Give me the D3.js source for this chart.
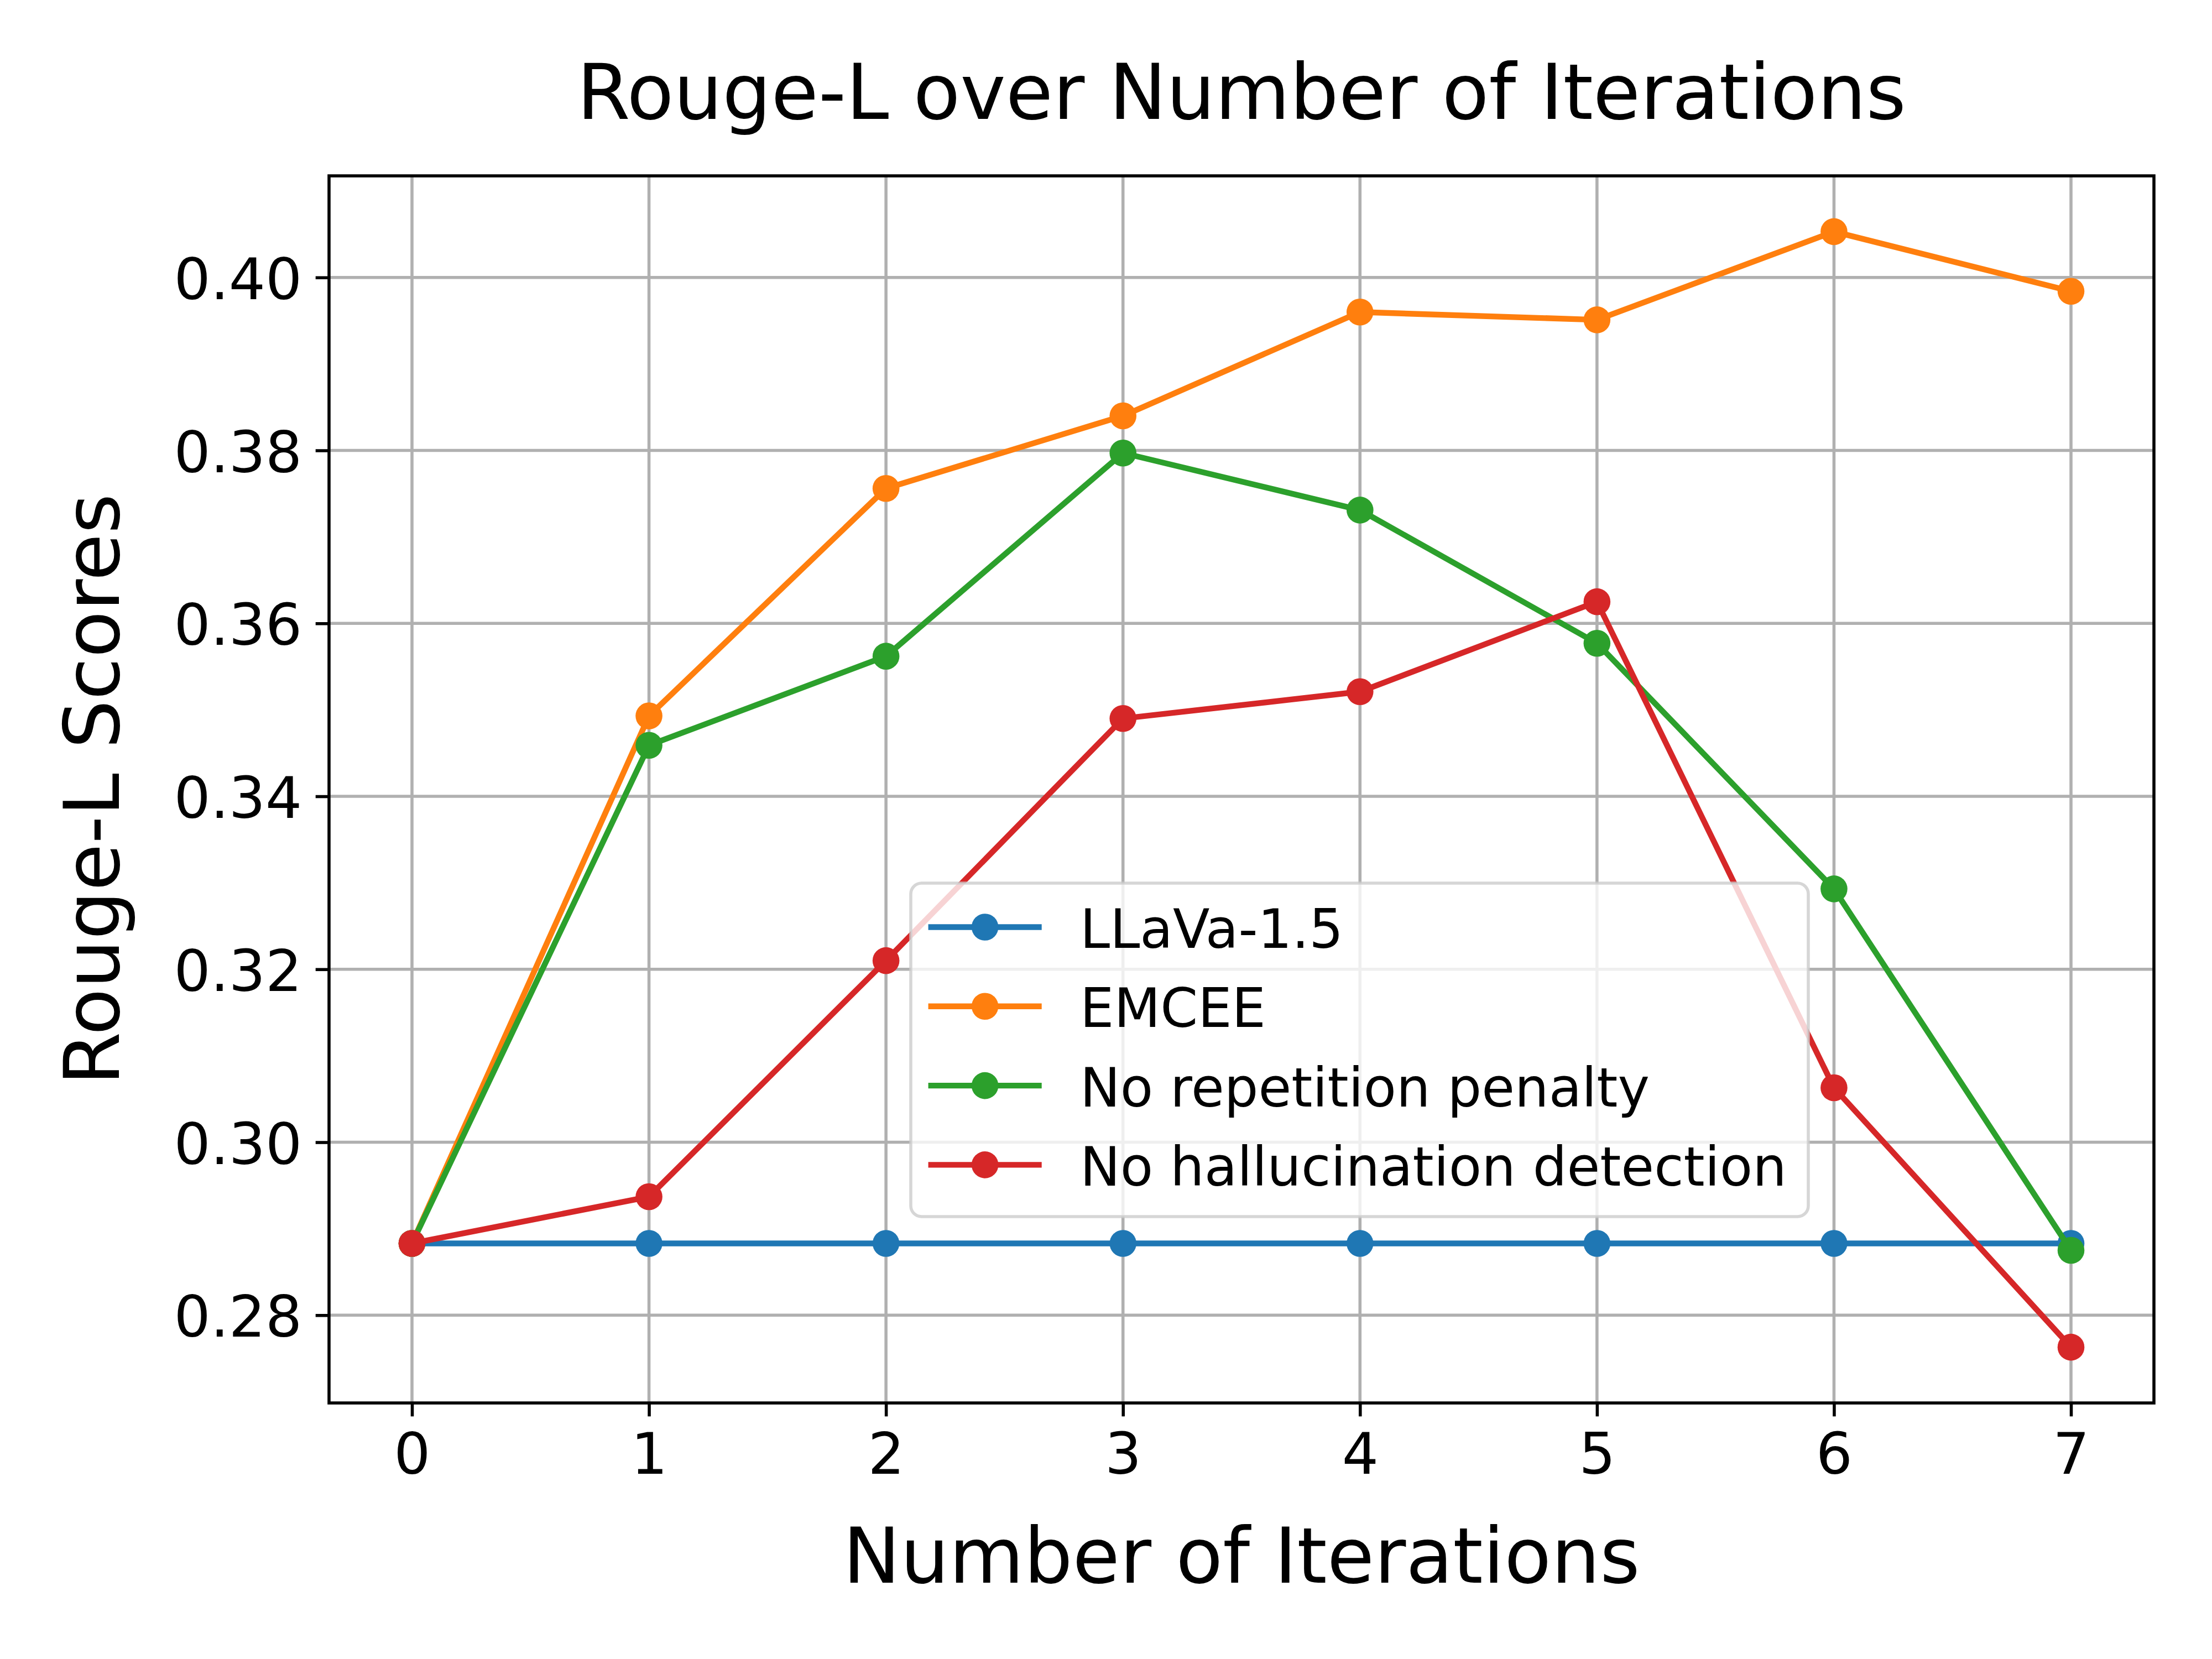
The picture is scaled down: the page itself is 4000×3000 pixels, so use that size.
<!DOCTYPE html>
<html>
<head>
<meta charset="utf-8">
<script src="https://cdn.jsdelivr.net/npm/d3@7"></script>
<style>
  html, body { margin: 0; padding: 0; background: #ffffff; }
  svg { display: block; }
  text { font-family: "DejaVu Sans", sans-serif; fill: #000; }
</style>
</head>
<body>
<svg id="chart" width="4000" height="3000"></svg>
<script>
// ---- data ----
const iterations = [0, 1, 2, 3, 4, 5, 6, 7];
const seriesNames = ["LLaVa-1.5", "EMCEE", "No repetition penalty", "No hallucination detection"];
const llavaScores = [0.2883, 0.2883, 0.2883, 0.2883, 0.2883, 0.2883, 0.2883, 0.2883];
const emceeScores = [0.2883, 0.3493, 0.3756, 0.3840, 0.3960, 0.3951, 0.4053, 0.3984];
const noRepetitionScores = [0.2883, 0.3459, 0.3562, 0.3797, 0.3731, 0.3577, 0.3293, 0.2875];
const noHallucinationScores = [0.2883, 0.2937, 0.3210, 0.3490, 0.3521, 0.3625, 0.3063, 0.2763];
const seriesColors = ["#1f77b4", "#ff7f0e", "#2ca02c", "#d62728"];
const xTickValues = [0, 1, 2, 3, 4, 5, 6, 7];
const yTickValues = [0.28, 0.30, 0.32, 0.34, 0.36, 0.38, 0.40];
const yTickLabels = ["0.28", "0.30", "0.32", "0.34", "0.36", "0.38", "0.40"];
const titleText = "Rouge-L over Number of Iterations";
const xLabelText = "Number of Iterations";
const yLabelText = "Rouge-L Scores";

// ---- layout ----
const W = 4000, H = 3000;
const ax = { left: 595, right: 3895, top: 318, bottom: 2537 };
const pt = 500 / 72;
const lw = 1.5 * pt, axLw = 0.8 * pt, markerR = 3.5 * pt;
const tickFont = 15 * pt, labelFont = 20 * pt, legendFont = 14 * pt;
const tickLen = 3.5 * pt, tickPad = 3.5 * pt;

const svg = d3.select("#chart");
svg.append("rect").attr("width", W).attr("height", H).attr("fill", "#ffffff");

const allSeries = [llavaScores, emceeScores, noRepetitionScores, noHallucinationScores];
const allVals = allSeries.flat();
const yMin = d3.min(allVals), yMax = d3.max(allVals);
const yPad = (yMax - yMin) * 0.05;
const xMinD = d3.min(iterations), xMaxD = d3.max(iterations);
const xPad = (xMaxD - xMinD) * 0.05;

const x = d3.scaleLinear().domain([xMinD - xPad, xMaxD + xPad]).range([ax.left, ax.right]);
const y = d3.scaleLinear().domain([yMin - yPad, yMax + yPad]).range([ax.bottom, ax.top]);

// clip
svg.append("defs").append("clipPath").attr("id", "clip")
  .append("rect").attr("x", ax.left).attr("y", ax.top)
  .attr("width", ax.right - ax.left).attr("height", ax.bottom - ax.top);

// grid
const grid = svg.append("g");
grid.selectAll("line.gx").data(xTickValues).enter().append("line")
  .attr("x1", d => x(d)).attr("x2", d => x(d))
  .attr("y1", ax.top).attr("y2", ax.bottom)
  .attr("stroke", "#b0b0b0").attr("stroke-width", axLw);
grid.selectAll("line.gy").data(yTickValues).enter().append("line")
  .attr("x1", ax.left).attr("x2", ax.right)
  .attr("y1", d => y(d)).attr("y2", d => y(d))
  .attr("stroke", "#b0b0b0").attr("stroke-width", axLw);

// series
const plot = svg.append("g").attr("clip-path", "url(#clip)");
const lineGen = d3.line().x((d, i) => x(iterations[i])).y(d => y(d));
allSeries.forEach((vals, si) => {
  const g = plot.append("g");
  g.append("path").datum(vals)
    .attr("d", lineGen)
    .attr("fill", "none")
    .attr("stroke", seriesColors[si])
    .attr("stroke-width", lw)
    .attr("stroke-linejoin", "round")
    .attr("stroke-linecap", "square");
  g.selectAll("circle").data(vals).enter().append("circle")
    .attr("cx", (d, i) => x(iterations[i]))
    .attr("cy", d => y(d))
    .attr("r", markerR)
    .attr("fill", seriesColors[si]);
});

// axes
const xAxis = d3.axisBottom(x).tickValues(xTickValues).tickSize(tickLen).tickPadding(tickPad).tickFormat(d3.format("d"));
const yAxis = d3.axisLeft(y).tickValues(yTickValues).tickSize(tickLen).tickPadding(tickPad)
  .tickFormat((d, i) => yTickLabels[i]);

const gx = svg.append("g").attr("transform", `translate(0,${ax.bottom})`).call(xAxis);
const gy = svg.append("g").attr("transform", `translate(${ax.left},0)`).call(yAxis);
[gx, gy].forEach(g => {
  g.select(".domain").remove();
  g.selectAll(".tick line").attr("stroke", "#000").attr("stroke-width", axLw);
  g.selectAll(".tick text").attr("font-size", tickFont).attr("fill", "#000")
    .attr("font-family", "DejaVu Sans, sans-serif");
});
gx.selectAll(".tick text").attr("dy", "0.762em");
gy.selectAll(".tick text").attr("dy", "0.37em");

// spines
svg.append("rect")
  .attr("x", ax.left).attr("y", ax.top)
  .attr("width", ax.right - ax.left).attr("height", ax.bottom - ax.top)
  .attr("fill", "none").attr("stroke", "#000").attr("stroke-width", axLw);

// title & labels
const cx = (ax.left + ax.right) / 2;
const cy = (ax.top + ax.bottom) / 2;
svg.append("text").attr("x", cx).attr("y", 215).attr("text-anchor", "middle")
  .attr("font-size", labelFont).text(titleText);
svg.append("text").attr("x", cx).attr("y", 2862).attr("text-anchor", "middle")
  .attr("font-size", labelFont).text(xLabelText);
svg.append("text").attr("transform", `translate(215,${cy}) rotate(-90)`)
  .attr("text-anchor", "middle").attr("font-size", labelFont).text(yLabelText);

// legend
const lg = { x: 1647, y: 1597, w: 1623, h: 603 };
const legend = svg.append("g");
legend.append("rect")
  .attr("x", lg.x).attr("y", lg.y).attr("width", lg.w).attr("height", lg.h)
  .attr("rx", 0.2 * legendFont).attr("ry", 0.2 * legendFont)
  .attr("fill", "#ffffff").attr("fill-opacity", 0.8)
  .attr("stroke", "#cccccc").attr("stroke-opacity", 0.8).attr("stroke-width", axLw);
seriesNames.forEach((name, i) => {
  const ry = lg.y + 79.5 + i * 143.3;
  const hx0 = lg.x + 31.6, hx1 = lg.x + 236.7;
  legend.append("line").attr("x1", hx0).attr("x2", hx1).attr("y1", ry).attr("y2", ry)
    .attr("stroke", seriesColors[i]).attr("stroke-width", lw);
  legend.append("circle").attr("cx", (hx0 + hx1) / 2).attr("cy", ry).attr("r", markerR)
    .attr("fill", seriesColors[i]);
  legend.append("text").attr("x", lg.x + 306).attr("y", ry + 37.5)
    .attr("font-size", legendFont).text(name);
});
</script>
</body>
</html>
